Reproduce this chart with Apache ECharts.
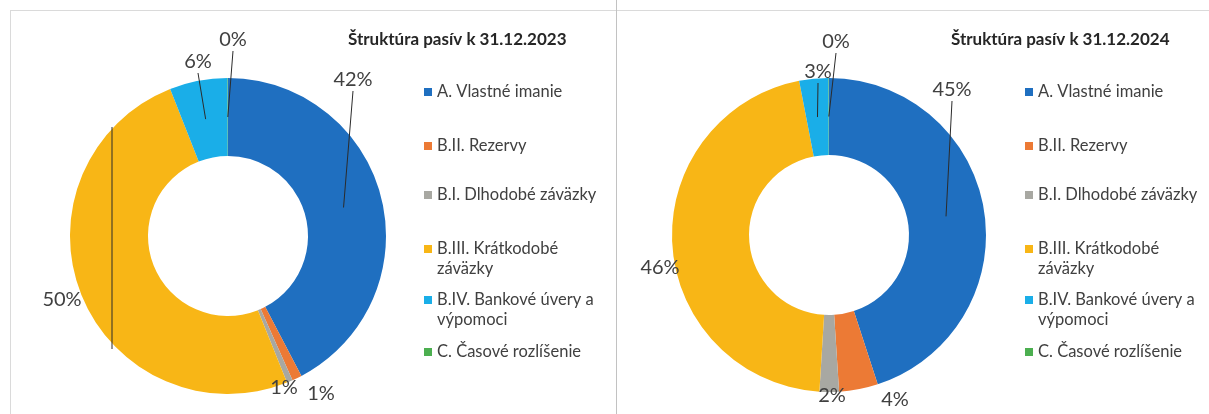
<!DOCTYPE html>
<html>
<head>
<meta charset="utf-8">
<script src="https://cdn.jsdelivr.net/npm/echarts@6/dist/echarts.min.js"></script>
<style>
html, body { margin: 0; padding: 0; background: #fff; }
#chart { position: absolute; left: 0; top: 0; width: 1209px; height: 414px; }
.rule { position: absolute; background: #dadada; }
</style>
</head>
<body>
<div class="rule" style="left:10px;top:10px;width:1199px;height:1px"></div>
<div class="rule" style="left:10px;top:10px;width:1px;height:404px"></div>
<div class="rule" style="left:616px;top:0;width:1px;height:414px;background:#c2c2c2"></div>
<div id="chart"></div>
<script>
// data
const categories = [
    'A. Vlastné imanie',
    'B.II. Rezervy',
    'B.I. Dlhodobé záväzky',
    'B.III. Krátkodobé záväzky',
    'B.IV. Bankové úvery a výpomoci',
    'C. Časové rozlíšenie'
]
const values2023 = [42.2, 1.0, 0.6, 50.0, 5.9, 0.05]
const values2024 = [45.0, 4.0, 2.0, 46.0, 3.0, 0.05]
const titles = ['Štruktúra pasív k 31.12.2023', 'Štruktúra pasív k 31.12.2024']

const colors = ['#1f6fc0', '#ec7a35', '#a8a8a2', '#f8b616', '#1aaee8', '#4caf50']
const textColor = '#404040'
const font = 'Lato, "Open Sans", sans-serif'

// layout of the two panels
const panels = [
    { cx: 228, cy: 236, r0: 80, r: 158, titleX: 348, legendX: 424 },
    { cx: 829, cy: 235, r0: 80, r: 157, titleX: 951, legendX: 1025 }
]
// excel-like label spots (label centre, leader line or not)
const labelSpots = [
    [
        { x: 353, y: 80, line: true },
        { x: 321, y: 394 },
        { x: 284, y: 388 },
        { x: 62, y: 300, guide: [[112, 127], [112, 349]] },
        { x: 198, y: 62, line: true },
        { x: 233, y: 40, line: true }
    ],
    [
        { x: 952, y: 90, line: true },
        { x: 895, y: 400 },
        { x: 832, y: 396 },
        { x: 660, y: 268 },
        { x: 818, y: 72, line: true },
        { x: 836, y: 42, line: true }
    ]
]
// icon centre of each legend entry
const legendY = [92, 146, 195, 249, 300, 352]
const lineH = 20

// legend text: wrapped entries get an empty first line so the icon sits on the first text line
function wrapName(n) {
    const w = n.replace('Krátkodobé ', 'Krátkodobé\n').replace('úvery a ', 'úvery a\n')
    return w === n ? n : '\n' + w
}

function makeLabelLayout(p, spots, vals) {
    const total = vals.reduce((a, b) => a + b, 0)
    const rMid = (p.r0 + p.r) / 2
    return function (params) {
        const i = params.dataIndex
        const s = spots[i]
        let before = 0
        for (let k = 0; k < i; k++) before += vals[k]
        const mid = (before + vals[i] / 2) / total * Math.PI * 2
        let pts = [[s.x, s.y], [s.x, s.y]]
        if (s.guide) {
            pts = s.guide
        } else if (s.line) {
            pts = [[s.x, s.y + 11], [p.cx + rMid * Math.sin(mid), p.cy - rMid * Math.cos(mid)]]
        }
        return { x: s.x, y: s.y, align: 'center', verticalAlign: 'middle', labelLinePoints: pts }
    }
}

const allValues = [values2023, values2024]
const series = []
const legends = []
const titleList = []
panels.forEach((p, si) => {
    const base = {
        type: 'pie',
        center: [p.cx, p.cy],
        radius: [p.r0, p.r],
        startAngle: 90,
        clockwise: true,
        avoidLabelOverlap: false,
        emphasis: { disabled: true }
    }
    // coloured ring
    series.push(Object.assign({}, base, {
        z: 2,
        itemStyle: { borderWidth: 0 },
        label: { show: false },
        labelLine: { show: false },
        data: categories.map((name, i) => ({
            name: name,
            value: allValues[si][i],
            itemStyle: { color: colors[i] }
        }))
    }))
    // same ring, transparent, on top: carries the percent labels and leader lines
    series.push(Object.assign({}, base, {
        z: 5,
        silent: true,
        legendHoverLink: false,
        itemStyle: { color: 'rgba(0,0,0,0)', borderWidth: 0 },
        label: {
            show: true,
            position: 'outside',
            formatter: (d) => Math.round(d.percent) + '%',
            color: textColor,
            opacity: 1,
            fontFamily: font,
            fontSize: 20
        },
        labelLine: { show: true, lineStyle: { color: '#2b2b2b', width: 1, opacity: 1 } },
        labelLayout: makeLabelLayout(p, labelSpots[si], allValues[si]),
        data: categories.map((name, i) => ({ name: name, value: allValues[si][i] }))
    }))
    titleList.push({
        text: titles[si],
        left: p.titleX,
        top: 31,
        padding: 0,
        textStyle: { fontFamily: font, fontSize: 17, fontWeight: 'bold', color: '#262626' }
    })
    categories.forEach((name, i) => {
        const twoLines = wrapName(name) !== name
        legends.push({
            left: p.legendX,
            top: legendY[i] - (twoLines ? 1.5 * lineH : lineH / 2),
            padding: 0,
            orient: 'vertical',
            icon: 'rect',
            itemWidth: 8,
            itemHeight: 8,
            selectedMode: false,
            formatter: wrapName,
            textStyle: {
                fontFamily: font,
                fontSize: 16.5,
                lineHeight: lineH,
                color: textColor
            },
            data: [name]
        })
    })
})

const myChart = echarts.init(document.getElementById('chart'))
myChart.setOption({
    animation: false,
    color: colors,
    title: titleList,
    legend: legends,
    series: series
})
</script>
</body>
</html>
